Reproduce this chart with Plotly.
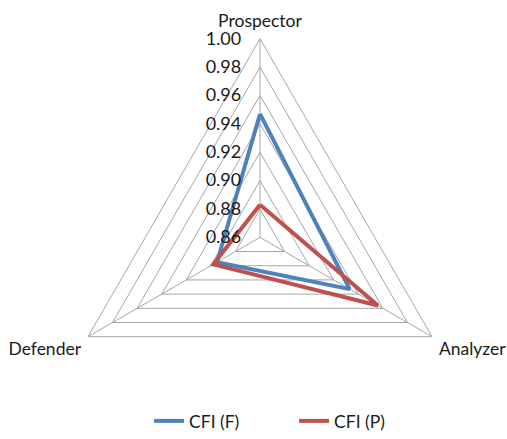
import plotly.graph_objects as go

# Strategy types on the angular axis
categories = ["Prospector", "Analyzer", "Defender"]

# Comparative fit index per strategy type
cfi_f = [0.947, 0.933, 0.895]
cfi_p = [0.883, 0.956, 0.898]

radial_ticks = [0.86, 0.88, 0.90, 0.92, 0.94, 0.96, 0.98, 1.00]

series = [
    ("CFI (F)", cfi_f, "#4F81BD"),
    ("CFI (P)", cfi_p, "#C0504D"),
]

FONT = "Lato"
GRID = "#A6A6A6"
TEXT = "#1a1a1a"

fig = go.Figure()
for name, vals, color in series:
    fig.add_trace(go.Scatterpolar(
        r=vals + vals[:1],
        theta=categories + categories[:1],
        mode="lines",
        name=name,
        line=dict(color=color, width=4),
    ))

W, H = 507, 439
R = 200
cx, cy = 260, 239
fig.update_layout(
    width=W, height=H,
    margin=dict(l=0, r=0, t=0, b=0),
    paper_bgcolor="white",
    font=dict(family=FONT, size=17, color=TEXT),
    polar=dict(
        domain=dict(x=[(cx - R) / W, (cx + R) / W], y=[1 - (cy + R) / H, 1 - (cy - R) / H]),
        gridshape="linear",
        bgcolor="white",
        radialaxis=dict(
            range=[0.86, 1.00],
            tickvals=radial_ticks,
            ticktext=[f"{v:.2f}" for v in radial_ticks],
            angle=90,
            tickangle=90,
            side="counterclockwise",
            showline=False,
            gridcolor=GRID,
            gridwidth=1,
            ticks="outside",
            ticklen=12,
            tickcolor="rgba(0,0,0,0)",
            tickfont=dict(size=18, family=FONT, color=TEXT),
        ),
        angularaxis=dict(
            rotation=90,
            direction="clockwise",
            gridcolor=GRID,
            linecolor=GRID,
            linewidth=1,
            ticks="outside",
            ticklen=4,
            tickcolor="rgba(0,0,0,0)",
            tickfont=dict(size=17.5, family=FONT, color=TEXT),
        ),
    ),
    legend=dict(
        orientation="h",
        x=0.58, xanchor="center",
        y=0.034, yanchor="middle",
        font=dict(size=17.5, family=FONT, color=TEXT),
        entrywidth=100,
    ),
)

fig.write_html("out.html")
